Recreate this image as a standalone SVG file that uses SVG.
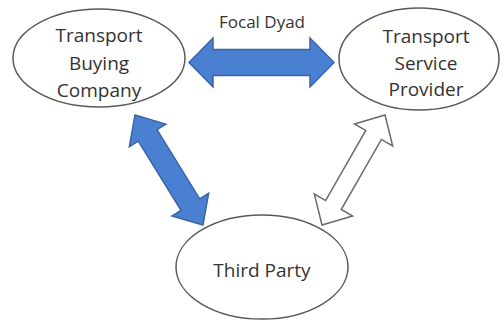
<svg xmlns="http://www.w3.org/2000/svg" width="502" height="321" viewBox="0 0 502 321">
  <style>
    .node ellipse { fill: #ffffff; stroke: #5a5a5a; stroke-width: 1.5; }
    .lbl { font-family: "Open Sans", "Liberation Sans", sans-serif; font-size: 19px; fill: #333333; text-anchor: middle; }
    .blue { fill: #4a80d2; stroke: #3d64a0; stroke-width: 1.5; stroke-linejoin: miter; }
    .hollow { fill: #ffffff; stroke: #6a6a6a; stroke-width: 1.5; }
  </style>
  <rect width="502" height="321" fill="#ffffff"/>
  <g id="connectors">
    <polygon class="blue" transform="translate(189,62.5)" points="0,0 24,-24.5 24,-13 121,-13 121,-24.5 145,0 121,24.5 121,13 24,13 24,24.5"/>
    <polygon class="blue" transform="translate(135,115) rotate(58.3)" points="0,0 24,-21.5 24,-11 105.3,-11 105.3,-21.5 129.3,0 105.3,21.5 105.3,11 24,11 24,21.5"/>
    <polygon class="hollow" transform="translate(322,225) rotate(-60.2)" points="0,0 23,-22 23,-9 103.8,-9 103.8,-22 126.8,0 103.8,22 103.8,9 23,9 23,22"/>
    <text class="lbl" x="262" y="28" style="font-size:17px">Focal Dyad</text>
  </g>
  <g id="node-tbc" class="node">
    <ellipse cx="99" cy="58" rx="86" ry="49"/>
    <text class="lbl" x="99" y="42">Transport</text>
    <text class="lbl" x="99" y="70">Buying</text>
    <text class="lbl" x="99" y="97">Company</text>
  </g>
  <g id="node-tsp" class="node">
    <ellipse cx="419" cy="59" rx="80" ry="51"/>
    <text class="lbl" x="426" y="43">Transport</text>
    <text class="lbl" x="426" y="70">Service</text>
    <text class="lbl" x="426" y="96">Provider</text>
  </g>
  <g id="node-third" class="node">
    <ellipse cx="262" cy="267" rx="86" ry="52"/>
    <text class="lbl" x="262" y="277">Third Party</text>
  </g>
</svg>
